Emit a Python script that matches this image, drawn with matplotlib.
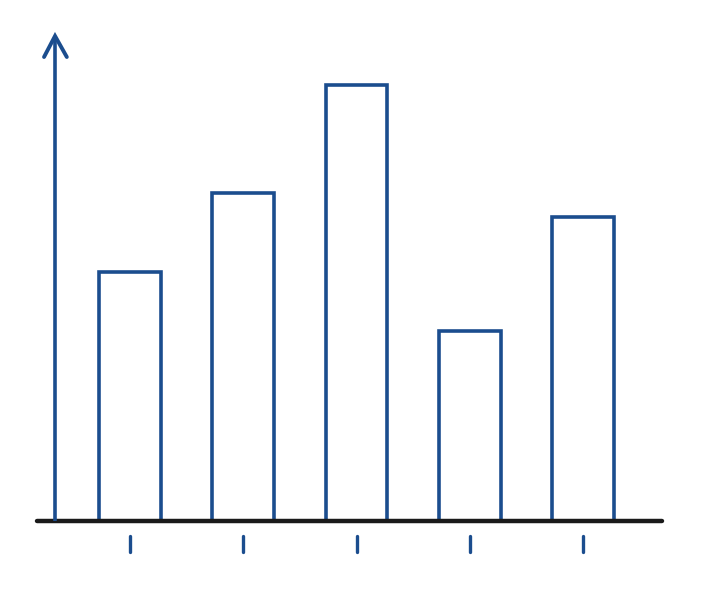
import matplotlib
matplotlib.use("Agg")
import matplotlib.pyplot as plt
import numpy as np

# bar heights (pixel-ish units above the baseline)
categories = ["A", "B", "C", "D", "E"]
values = [249, 328, 436, 190, 304]

blue = "#1b4d8e"
dark = "#1a1a1a"

fig = plt.figure(figsize=(7.01, 5.90), dpi=100)
ax = fig.add_axes([0, 0, 1, 1])
ax.set_xlim(-130 / 113.25, (701 - 130) / 113.25)
ax.set_ylim(-69, 521)
ax.axis("off")

x = np.arange(len(categories))
ax.bar(x, values, width=0.547, facecolor="white", edgecolor=blue, linewidth=2.6, zorder=2)

# baseline
ax.plot([-0.821, 4.698], [0, 0], color=dark, lw=3.2, solid_capstyle="round", zorder=3)

# y axis with arrow head
ax_x = -0.662
ax.plot([ax_x, ax_x], [0, 483], color=blue, lw=2.6, solid_capstyle="butt", zorder=3)
ax.plot([ax_x - 0.097, ax_x, ax_x + 0.104], [464, 485, 464], color=blue, lw=2.8,
        solid_capstyle="round", solid_joinstyle="miter", zorder=3)

# small tick marks under each bar
for xi in x:
    ax.plot([xi, xi], [-15, -31], color=blue, lw=2.4, solid_capstyle="round", zorder=3)

fig.savefig("out.png", dpi=100, facecolor="white")
